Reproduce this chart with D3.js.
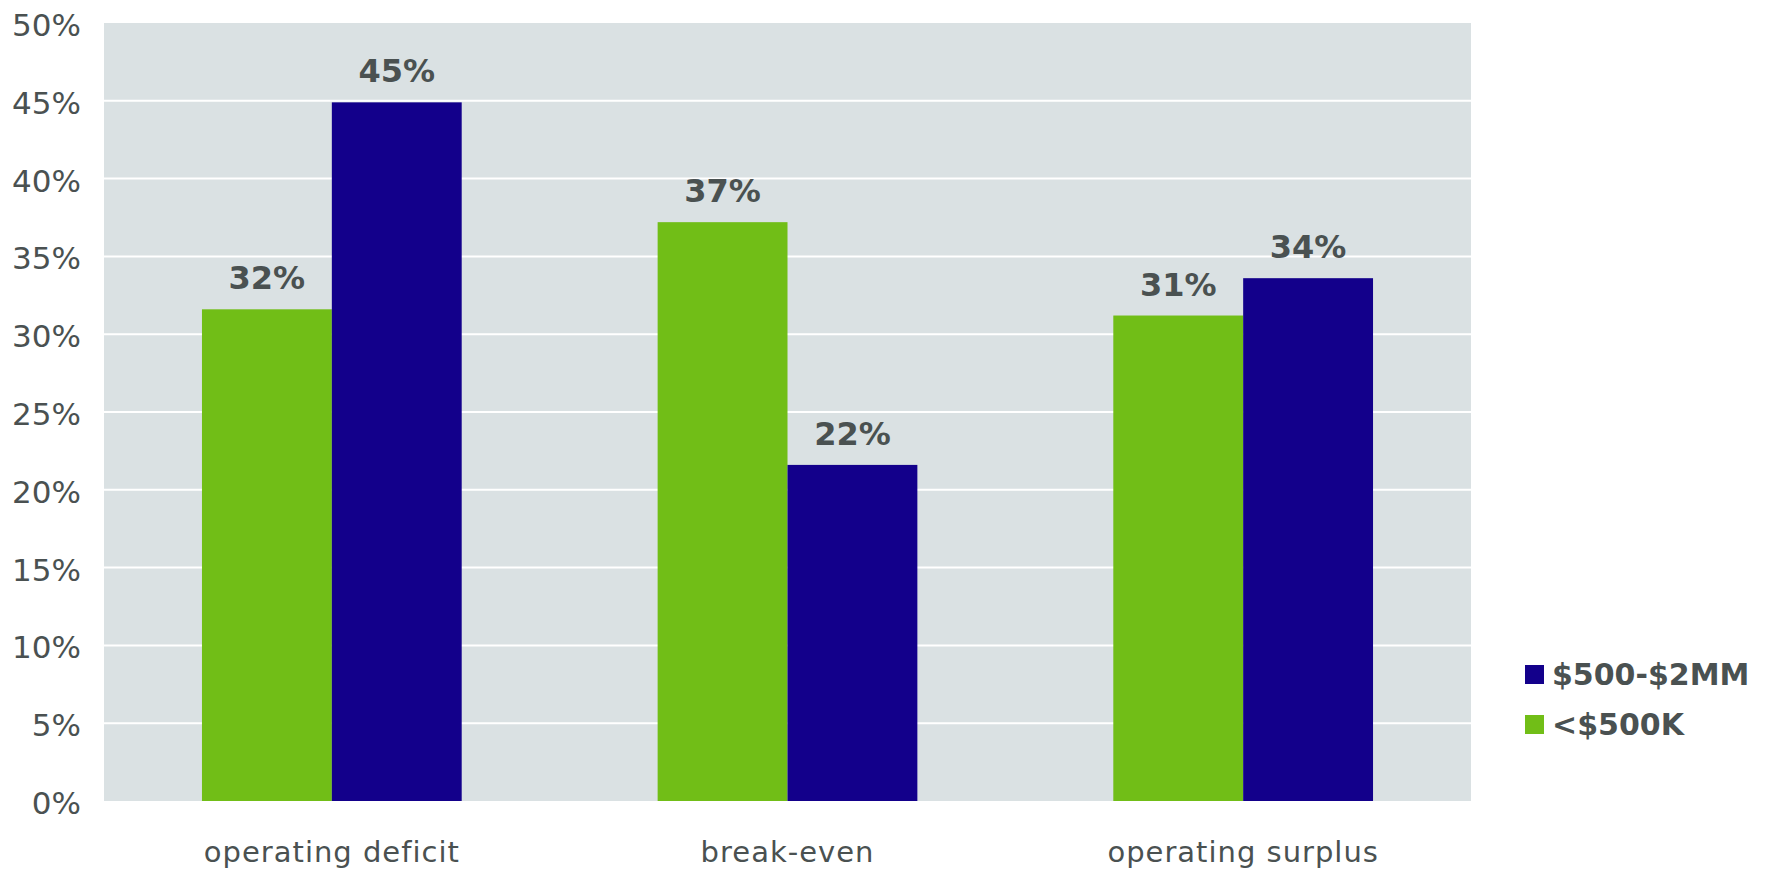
<!DOCTYPE html>
<html>
<head>
<meta charset="utf-8">
<script src="https://cdn.jsdelivr.net/npm/d3@7"></script>
<style>
  html, body { margin: 0; padding: 0; background: #ffffff; }
  svg { display: block; font-family: "DejaVu Sans", Verdana, sans-serif; }
</style>
</head>
<body>
<svg id="chart" width="1766" height="869"></svg>
<script>
// Share of organizations by operating result, per budget size
const categories = ["operating deficit", "break-even", "operating surplus"];
const seriesNames = ["<$500K", "$500-$2MM"];
const smallBudget = [0.316, 0.372, 0.312];   // <$500K
const midBudget = [0.449, 0.216, 0.336];     // $500-$2MM
const yTicks = [0, 0.05, 0.10, 0.15, 0.20, 0.25, 0.30, 0.35, 0.40, 0.45, 0.50];

const colors = { "<$500K": "#71be17", "$500-$2MM": "#13008b" };
const textColor = "#4a5151";

const rows = categories.map((c, i) => ({
  category: c,
  values: [
    { series: "<$500K", value: smallBudget[i] },
    { series: "$500-$2MM", value: midBudget[i] }
  ]
}));

const svg = d3.select("#chart");
const plot = { left: 104, right: 1471, top: 23, bottom: 801 };

const x0 = d3.scaleBand()
  .domain(categories)
  .range([plot.left, plot.right])
  .paddingInner(0.43)
  .paddingOuter(0.215);

const x1 = d3.scaleBand()
  .domain(seriesNames)
  .range([0, x0.bandwidth()]);

const y = d3.scaleLinear()
  .domain([0, 0.5])
  .range([plot.bottom, plot.top]);

// Plot background
svg.append("rect")
  .attr("x", plot.left)
  .attr("y", plot.top)
  .attr("width", plot.right - plot.left)
  .attr("height", plot.bottom - plot.top)
  .attr("fill", "#dae1e3");

// Horizontal gridlines
svg.append("g")
  .selectAll("line")
  .data(yTicks.filter(t => t > 0 && t < 0.5))
  .join("line")
  .attr("x1", plot.left)
  .attr("x2", plot.right)
  .attr("y1", d => y(d))
  .attr("y2", d => y(d))
  .attr("stroke", "#ffffff")
  .attr("stroke-width", 2);

// Y axis labels
const yAxis = d3.axisLeft(y)
  .tickValues(yTicks)
  .tickFormat(d3.format(".0%"))
  .tickSize(0)
  .tickPadding(23);

svg.append("g")
  .attr("transform", `translate(${plot.left},0)`)
  .call(yAxis)
  .call(g => g.select(".domain").remove())
  .call(g => g.selectAll("text")
    .attr("fill", textColor)
    .attr("dy", "0.4em")
    .style("font-size", "31px")
    .style("font-family", "'DejaVu Sans', Verdana, sans-serif"));

// Bars
const groups = svg.append("g")
  .selectAll("g")
  .data(rows)
  .join("g")
  .attr("transform", d => `translate(${x0(d.category)},0)`);

groups.selectAll("rect")
  .data(d => d.values)
  .join("rect")
  .attr("x", d => x1(d.series))
  .attr("y", d => y(d.value))
  .attr("width", x1.bandwidth())
  .attr("height", d => y(0) - y(d.value))
  .attr("fill", d => colors[d.series]);

// Value labels
groups.selectAll("text")
  .data(d => d.values)
  .join("text")
  .attr("x", d => x1(d.series) + x1.bandwidth() / 2)
  .attr("y", d => y(d.value) - 20)
  .attr("text-anchor", "middle")
  .attr("fill", textColor)
  .style("font-size", "32px")
  .style("font-weight", "bold")
  .text(d => d3.format(".0%")(d.value));

// Category axis labels
const xAxis = d3.axisBottom(x0).tickSize(0).tickPadding(0);
svg.append("g")
  .attr("transform", `translate(0,${plot.bottom})`)
  .call(xAxis)
  .call(g => g.select(".domain").remove())
  .call(g => g.selectAll("text")
    .attr("y", 61)
    .attr("dy", 0)
    .attr("fill", textColor)
    .style("font-size", "29px")
    .style("letter-spacing", "1px")
    .style("font-family", "'DejaVu Sans', Verdana, sans-serif"));

// Legend
const legendItems = ["$500-$2MM", "<$500K"];
const legend = svg.append("g")
  .selectAll("g")
  .data(legendItems)
  .join("g")
  .attr("transform", (d, i) => `translate(1525,${665 + i * 50})`);

legend.append("rect")
  .attr("width", 19)
  .attr("height", 19)
  .attr("fill", d => colors[d]);

legend.append("text")
  .attr("x", 27)
  .attr("y", 20)
  .attr("fill", textColor)
  .style("font-size", "30px")
  .style("font-weight", "bold")
  .text(d => d);
</script>
</body>
</html>
